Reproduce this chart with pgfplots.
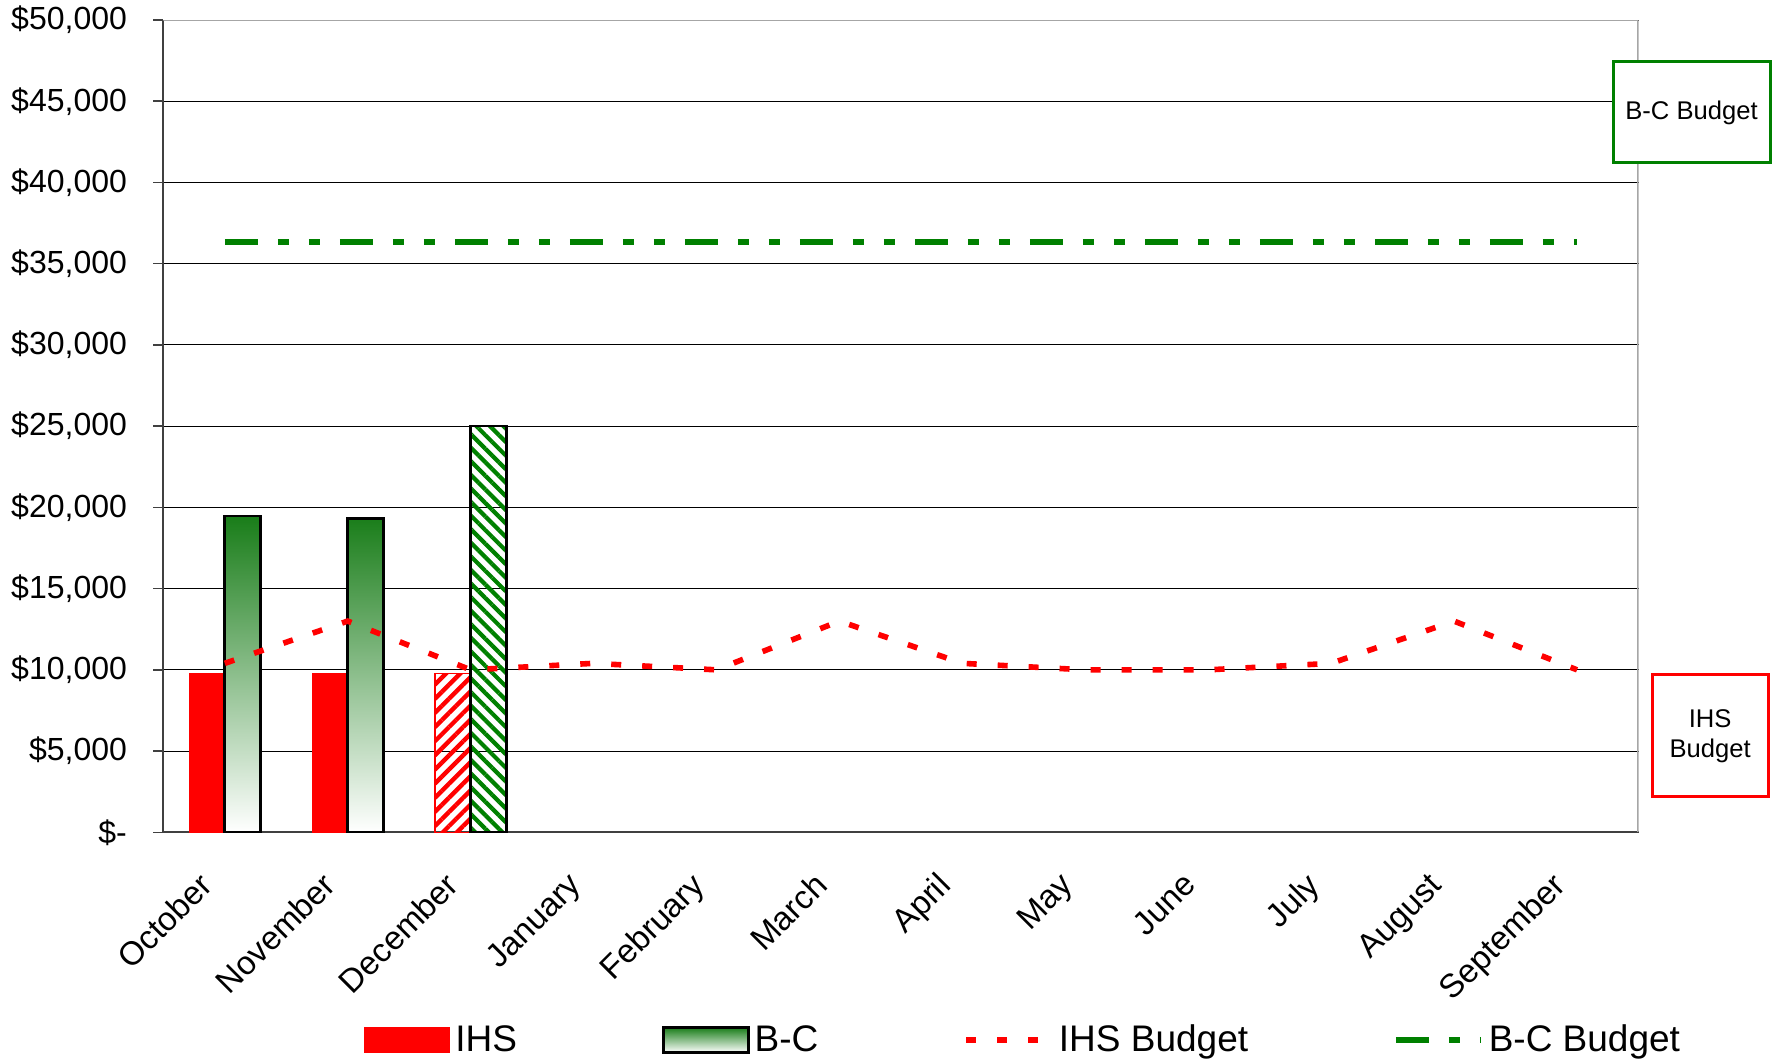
\documentclass[border=0pt]{standalone}
\usepackage{fontspec}
\setmainfont{Liberation Sans}
\usepackage{pgfplots}
\pgfplotsset{compat=1.18}
\usetikzlibrary{patterns.meta}
\definecolor{bcgreen}{RGB}{25,125,25}
\definecolor{lgreen}{RGB}{0,128,0}
\begin{document}
\begin{tikzpicture}
\useasboundingbox (-81.65bp,-115.35bp) rectangle (807.85bp,416.15bp);
\begin{axis}[
  at={(0,0)}, anchor=south west,
  scale only axis, width=737.6bp, height=406.15bp,
  xmin=-0.5, xmax=11.5, ymin=0, ymax=50000,
  axis lines*=left,
  axis line style={draw=black!75, line width=1bp},
  tick align=outside,
  major tick length=5bp, minor tick length=5bp,
  tick style={draw=black!75, line width=0.8bp},
  xtick={0,...,11},
  xtick style={draw=none},
  minor xtick={-0.5,0.5,...,11.5},
  xticklabels={October,November,December,January,February,March,April,May,June,July,August,September},
  ytick={0,5000,...,50000},
  yticklabels={{\$-},{\$5,000},{\$10,000},{\$15,000},{\$20,000},{\$25,000},{\$30,000},{\$35,000},{\$40,000},{\$45,000},{\$50,000}},
  xticklabel style={font=\fontsize{16.5bp}{18bp}\selectfont},
  yticklabel style={font=\fontsize{16bp}{18bp}\selectfont, anchor=east, inner sep=0pt, xshift=-13bp},
  xticklabel style={xshift=-13.5bp, yshift=-14bp, rotate=45, anchor=north east, inner sep=0pt},
  ymajorgrids, grid style={draw=black, line width=0.5bp},
  legend columns=4,
  legend style={at={(axis description cs:0.136,-0.2557)}, anchor=west, draw=none, fill=none,
    inner sep=0pt, font=\fontsize{18.5bp}{20bp}\selectfont,
    nodes={inner xsep=2.5bp, inner ysep=1bp},
    /tikz/every even column/.append style={column sep=70bp}},
  legend cell align=left,
]
\addplot[ybar, bar width=0.29, bar shift=-0.145, fill=red, draw=red, line width=0.5bp,
  legend image code/.code={\fill[red] (0bp,-6.25bp) rectangle (42.5bp,6.25bp);}]
  coordinates {(0,9780) (1,9780)};
\addlegendentry{IHS}
\addplot[ybar, bar width=0.29, bar shift=0.145, draw=black, line width=1.3bp, top color=bcgreen, bottom color=white,
  legend image code/.code={\path[draw=black, line width=1.3bp, top color=bcgreen, bottom color=white] (0bp,-6.25bp) rectangle (42.5bp,6.25bp);}]
  coordinates {(0,19470) (1,19300)};
\addlegendentry{B-C}
\addplot[ybar, forget plot, bar width=0.29, bar shift=-0.145, draw=red, line width=0.8bp,
  pattern={Lines[angle=45,distance=5bp,line width=2.2bp]}, pattern color=red]
  coordinates {(2,9780)};
\addplot[ybar, forget plot, bar width=0.29, bar shift=0.145, draw=black, line width=1.3bp,
  pattern={Lines[angle=-45,distance=4.8bp,line width=2.1bp]}, pattern color=lgreen]
  coordinates {(2,25000)};
\addplot[red, line width=2.8bp, dash pattern=on 5bp off 10.5bp, mark=none,
  legend image code/.code={\draw[red, line width=2.8bp, dash pattern=on 5bp off 10.5bp] (0bp,0bp) -- (42.5bp,0bp);}]
  coordinates {(0,10400) (1,13000) (2,10000) (3,10400) (4,10000) (5,13000) (6,10400) (7,10000) (8,10000) (9,10400) (10,13000) (11,10000)};
\addlegendentry{IHS Budget}
\addplot[lgreen, line width=2.8bp, dash pattern=on 16.5bp off 10bp on 5.5bp off 10bp on 5.5bp off 10bp, mark=none,
  legend image code/.code={\draw[lgreen, line width=2.8bp, dash pattern=on 16.5bp off 10bp on 5.5bp off 10bp on 5.5bp off 10bp] (0bp,0bp) -- (42.5bp,0bp);}]
  coordinates {(0,36350) (1,36350) (2,36350) (3,36350) (4,36350) (5,36350) (6,36350) (7,36350) (8,36350) (9,36350) (10,36350) (11,36350)};
\addlegendentry{B-C Budget}
\draw[gray!70, line width=1.2bp] (rel axis cs:0,1) -- (rel axis cs:1,1) -- (rel axis cs:1,0);
\end{axis}
\node[draw=lgreen, line width=1.5bp, minimum width=78.5bp, minimum height=50.5bp, fill=white,
  font=\fontsize{12.8bp}{15bp}\selectfont, inner sep=0pt] at (764.1bp,359.9bp) {B-C Budget};
\node[draw=red, line width=1.5bp, minimum width=58bp, minimum height=61bp, fill=white, align=center,
  font=\fontsize{12.8bp}{15bp}\selectfont, inner sep=0pt] at (773.4bp,48.2bp) {IHS\\Budget};
\end{tikzpicture}
\end{document}
